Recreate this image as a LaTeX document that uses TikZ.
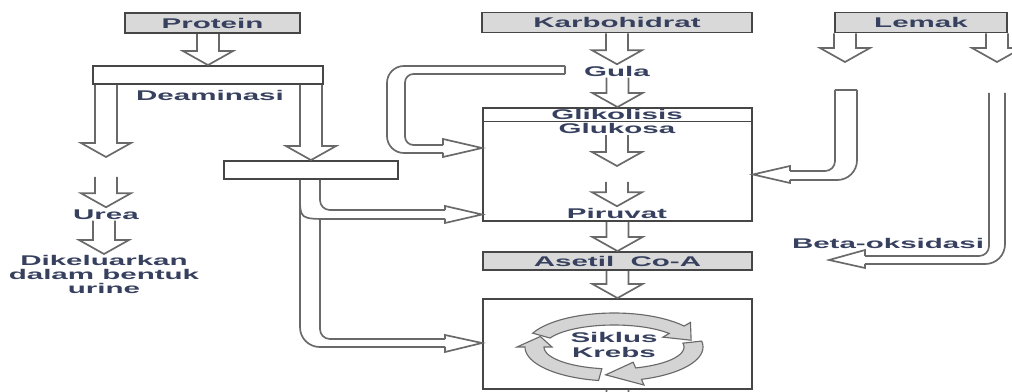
\documentclass[tikz,border=0pt]{standalone}
\usepackage{fontspec}
\setmainfont{Liberation Sans}
\usepackage{graphicx}
\usetikzlibrary{calc}

\definecolor{txtcol}{RGB}{55,65,95}
\definecolor{boxline}{RGB}{70,70,70}
\definecolor{boxfill}{RGB}{217,217,217}
\definecolor{arrline}{RGB}{105,105,105}
\definecolor{ringfill}{RGB}{212,212,212}

% the original picture is stretched sideways
\newcommand{\widetxt}[1]{\scalebox{2.1}[1]{\bfseries #1}}

% hollow arrow straight down, shaft x taken from the tip
\newcommand{\vblock}[2]{%
  \draw[blockarrow] ($(#1 -| #2)+(-11,0)$) -- ($(#2)+(-11,-14)$) -- ($(#2)+(-25,-14)$)
    -- (#2) -- ($(#2)+(25,-14)$) -- ($(#2)+(11,-14)$) -- ($(#1 -| #2)+(11,0)$);}

% one piece of the Krebs ring: start angle, head angle, tip angle
\newcommand{\ringseg}[3]{%
  \filldraw[ring] plot[domain=#1:#2, samples=25] ({614+89*cos(\x)},{347+34*sin(\x)})
    -- ({614+97*cos(#2)},{347+40*sin(#2)})
    -- ({614+79.5*cos(#3)},{347+28*sin(#3)})
    -- ({614+62*cos(#2)},{347+16*sin(#2)})
    -- plot[domain=#2:#1, samples=25] ({614+70*cos(\x)},{347+22*sin(\x)})
    -- cycle;}

\tikzset{
  txt/.style={inner sep=1pt, text height=7.2pt, text depth=0pt, text=txtcol},
  txtlines/.style={inner sep=1pt, align=center, text=txtcol},
  box/.style={draw=boxline, line width=1.3pt, fill=white, minimum height=0.45cm,
    inner sep=0pt, text height=7.2pt, text depth=0pt, text=txtcol},
  graybox/.style={box, fill=boxfill, minimum height=0.5cm},
  blockarrow/.style={draw=arrline, line width=1.2pt},
  ring/.style={draw=arrline, fill=ringfill, line width=0.8pt},
}

\begin{document}
\begin{tikzpicture}[x=0.025cm, y=-0.025cm, font=\fontsize{10}{10}\selectfont]
  \useasboundingbox (0,0) rectangle (1012,392);

  % top row
  \node[graybox, minimum width=4.375cm] (protein) at (212.5,23) {\widetxt{Protein}};
  \node[graybox, minimum width=6.75cm] (karbo) at (617,22.5) {\widetxt{Karbohidrat}};
  \node[graybox, minimum width=4.3cm] (lemak) at (921,22.5) {\widetxt{Lemak}};

  % protein side
  \node[box, minimum width=5.75cm] (deam) at (208,75) {};
  \node[txt] (deamtxt) at (210,95) {\widetxt{Deaminasi}};
  \node[box, minimum width=4.35cm] (kerangka) at (311,170) {};
  \node[txt] (urea) at (106,214) {\widetxt{Urea}};
  \node[txtlines, anchor=north] (urine) at (104,254)
    {\widetxt{Dikeluarkan}\\\widetxt{dalam bentuk}\\\widetxt{urine}};

  % carbohydrate column
  \node[txt] (gula) at (617,71) {\widetxt{Gula}};
  \node[box, minimum width=6.725cm, minimum height=2.825cm] (glik) at (617.5,164.5) {};
  \draw[boxline, line width=1.1pt] (glik.west |- 0,121.5) -- (glik.east |- 0,121.5);
  \node[txt] (glitxt) at (617,114) {\widetxt{Glikolisis}};
  \node[txt] (glukosa) at (617,128.5) {\widetxt{Glukosa}};
  \node[txt] (piruvat) at (617,213) {\widetxt{Piruvat}};
  \node[graybox, minimum width=6.725cm, minimum height=0.45cm] (asetil) at (617.5,261)
    {\widetxt{Asetil\ \ Co-A}};
  \node[box, minimum width=6.725cm, minimum height=2.25cm] (krebs) at (617.5,344) {};

  % fat side
  \node[txt] (beta) at (888,243) {\widetxt{Beta-oksidasi}};

  \coordinate (n1) at (106,157);
  \coordinate (n2) at (106,177);
  \coordinate (n3) at (617,166);
  \coordinate (n4) at (617,182);
  \coordinate (n5) at (845,62);
  \coordinate (n6) at (997,62);
  \coordinate (n7) at (617.5,425);
  \coordinate (n8) at (829,260);

  % straight arrows
  \vblock{protein.south}{deam.north}
  \vblock{deam.south}{n1}
  \vblock{deam.south}{kerangka.north}
  \vblock{n2}{urea.north}
  \vblock{urea.south}{urine.north}
  \vblock{karbo.south}{gula.north}
  \vblock{gula.south}{glik.north}
  \vblock{glukosa.south}{n3}
  \vblock{n4}{piruvat.north}
  \vblock{glik.south}{asetil.north}
  \vblock{asetil.south}{krebs.north}
  \vblock{lemak.south}{n5}
  \vblock{lemak.south}{n6}
  \vblock{krebs.south}{n7}

  % Gula round to glycolysis
  \draw[blockarrow] (565,66) -- (565,74);
  \draw[blockarrow, rounded corners=12pt] (565,66) -- (387,66) -- (387,153) -- (443,153);
  \draw[blockarrow, rounded corners=6pt] (443,145) -- (405,145) -- (405,74) -- (565,74);
  \draw[blockarrow] (443,153) -- (443,157) -- (glik.west |- 0,148) -- (443,139) -- (443,145);

  % from the lower protein box to glycolysis and Krebs
  \draw[blockarrow, rounded corners=14pt] (kerangka.south -| 300,0) -- (300,347) -- (445,347);
  \draw[blockarrow, rounded corners=7pt] (kerangka.south -| 320,0) -- (320,210) -- (445,210);
  \draw[blockarrow] (300,196) .. controls (300,219) .. (330,219) -- (445,219);
  \draw[blockarrow, rounded corners=7pt] (320,219) -- (320,339) -- (445,339);
  \draw[blockarrow] (445,210) -- (445,206) -- (glik.west |- 0,214.5) -- (445,223) -- (445,219);
  \draw[blockarrow] (445,339) -- (445,335) -- (krebs.west |- 0,343) -- (445,352) -- (445,347);

  % Lemak into glycolysis
  \draw[blockarrow] (835,90) -- (857,90);
  \draw[blockarrow, rounded corners=7pt] (835,90) -- (835,171) -- (790,171);
  \draw[blockarrow, rounded corners=14pt] (857,90) -- (857,180) -- (790,180);
  \draw[blockarrow] (790,171) -- (790,166) -- (glik.east |- 0,174.5) -- (790,183) -- (790,180);

  % Lemak to beta-oksidasi
  \draw[blockarrow, rounded corners=7pt] (989,93) -- (989,256) -- (865,256);
  \draw[blockarrow, rounded corners=14pt] (1005,93) -- (1005,264) -- (865,264);
  \draw[blockarrow] (865,256) -- (865,250) -- (n8) -- (865,268) -- (865,264);

  % Krebs ring
  \ringseg{204}{322}{346}
  \ringseg{350}{432}{456}
  \ringseg{100}{180}{202}
  \node[txtlines] (siklus) at (614,345) {\widetxt{Siklus}\\\widetxt{Krebs}};
\end{tikzpicture}
\end{document}
